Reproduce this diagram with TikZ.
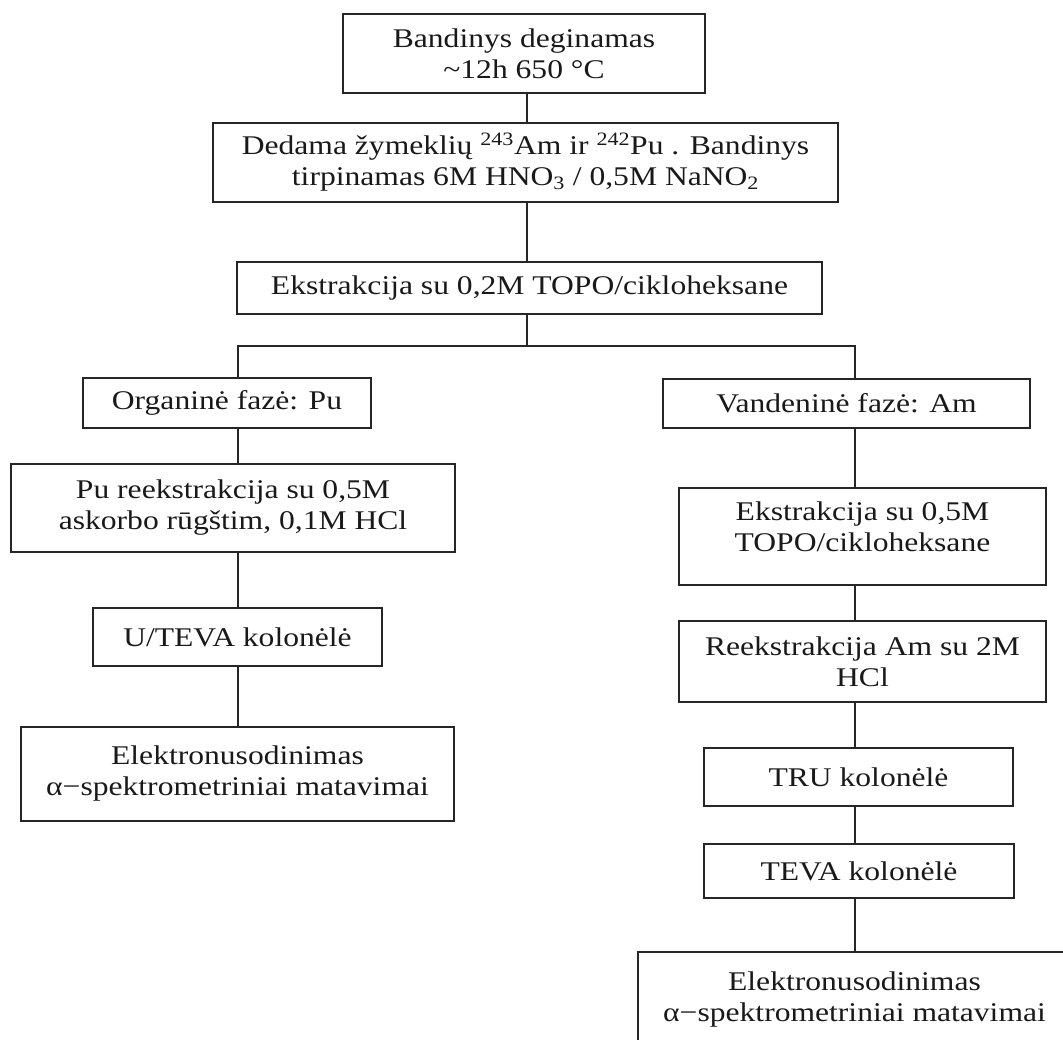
\documentclass[tikz,border=0pt]{standalone}
\usepackage{fontspec}
\setmainfont{Liberation Serif}[FakeStretch=1.17]
\usetikzlibrary{calc}
\usetikzlibrary{positioning}

\tikzset{
  stepbox/.style={draw=black!85, line width=1.3pt, align=center, inner sep=2pt,
    font=\fontsize{27pt}{31pt}\selectfont, text=black!90},
  link/.style={draw=black!85, line width=1.3pt},
}

\begin{document}
\begin{tikzpicture}[x=1pt, y=-1pt]
\useasboundingbox (0,0) rectangle (1063,1040);
\clip (0,0) rectangle (1063,1040);

% column axes
\coordinate (mid) at (527,0);
\coordinate (lcol) at (238,0);
\coordinate (rcol) at (855,0);
\coordinate (fork) at (527,346);

% common steps
\node[stepbox, minimum width=362pt, minimum height=79pt] (burn) at (524,53.5)
  {Bandinys deginamas\\\textasciitilde12h 650 °C};
\node[stepbox, minimum width=625pt, minimum height=79pt] (tracer) at (525.5,162.5)
  {Dedama žymeklių \textsuperscript{243}Am ir \textsuperscript{242}Pu . Bandinys\\
   tirpinamas 6M HNO\textsubscript{3} / 0,5M NaNO\textsubscript{2}};
\node[stepbox, minimum width=585pt, minimum height=52pt] (extr) at (529.5,288)
  {Ekstrakcija su 0,2M TOPO/cikloheksane};

% Pu branch
\node[stepbox, minimum width=288pt, minimum height=50pt] (org) at (227,403)
  {Organinė fazė: Pu};
\node[stepbox, minimum width=444pt, minimum height=88pt] (pureex) at (233,508)
  {Pu reekstrakcija su 0,5M\\askorbo rūgštim, 0,1M HCl};
\node[stepbox, minimum width=289pt, minimum height=58pt] (uteva) at (237.5,637)
  {U/TEVA kolonėlė};
\node[stepbox, minimum width=433pt, minimum height=94pt] (puelec) at (237.5,774)
  {Elektronusodinimas\\α−spektrometriniai matavimai};

% Am branch
\node[stepbox, minimum width=367pt, minimum height=49pt] (aq) at (846.5,403.5)
  {Vandeninė fazė: Am};
\node[stepbox, minimum width=367pt, minimum height=97pt, text depth=20pt] (amex) at (862.5,536.5)
  {Ekstrakcija su 0,5M\\TOPO/cikloheksane};
\node[stepbox, minimum width=367pt, minimum height=81pt] (amreex) at (862.5,661.5)
  {Reekstrakcija Am su 2M\\HCl};
\node[stepbox, minimum width=309pt, minimum height=58pt] (tru) at (858.5,777)
  {TRU kolonėlė};
\node[stepbox, minimum width=310pt, minimum height=54pt] (teva) at (859,871)
  {TEVA kolonėlė};
\node[stepbox, minimum width=433pt, minimum height=94pt] (amelec) at (854.5,999)
  {Elektronusodinimas\\α−spektrometriniai matavimai};

% connectors
\draw[link] (burn.south -| mid) -- (tracer.north -| mid);
\draw[link] (tracer.south -| mid) -- (extr.north -| mid);
\draw[link] (extr.south -| mid) -- (fork);
\draw[link] (org.north -| lcol) |- (fork) -| (aq.north -| rcol);

\draw[link] (org.south -| lcol) -- (pureex.north -| lcol);
\draw[link] (pureex.south -| lcol) -- (uteva.north -| lcol);
\draw[link] (uteva.south -| lcol) -- (puelec.north -| lcol);

\draw[link] (aq.south -| rcol) -- (amex.north -| rcol);
\draw[link] (amex.south -| rcol) -- (amreex.north -| rcol);
\draw[link] (amreex.south -| rcol) -- (tru.north -| rcol);
\draw[link] (tru.south -| rcol) -- (teva.north -| rcol);
\draw[link] (teva.south -| rcol) -- (amelec.north -| rcol);

\end{tikzpicture}
\end{document}
